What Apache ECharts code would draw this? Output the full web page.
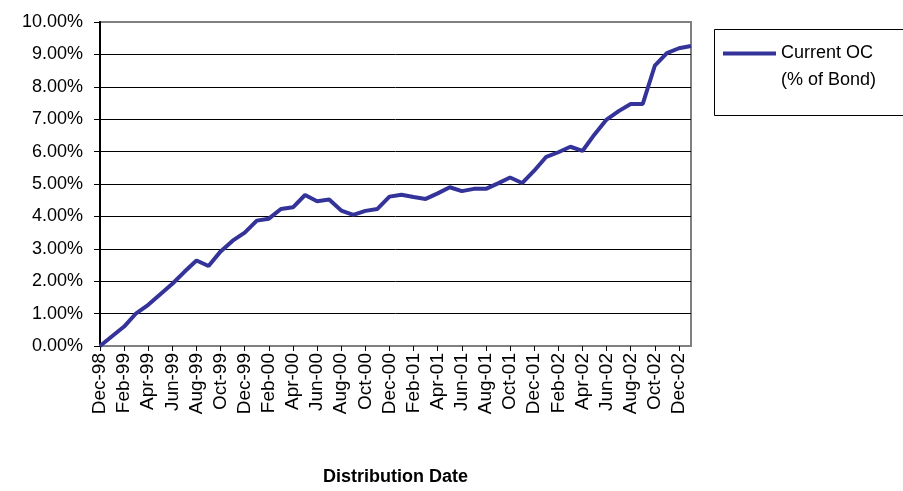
<!DOCTYPE html>
<html>
<head>
<meta charset="utf-8">
<script src="https://cdn.jsdelivr.net/npm/echarts@6/dist/echarts.min.js"></script>
<style>
html,body{margin:0;padding:0;background:#fff;}
#chart{width:903px;height:491px;}
</style>
</head>
<body>
<div id="chart"></div>
<script>
var months = ["Dec-98","Jan-99","Feb-99","Mar-99","Apr-99","May-99","Jun-99","Jul-99","Aug-99","Sep-99","Oct-99","Nov-99","Dec-99",
"Jan-00","Feb-00","Mar-00","Apr-00","May-00","Jun-00","Jul-00","Aug-00","Sep-00","Oct-00","Nov-00","Dec-00",
"Jan-01","Feb-01","Mar-01","Apr-01","May-01","Jun-01","Jul-01","Aug-01","Sep-01","Oct-01","Nov-01","Dec-01",
"Jan-02","Feb-02","Mar-02","Apr-02","May-02","Jun-02","Jul-02","Aug-02","Sep-02","Oct-02","Nov-02","Dec-02",
"Jan-03"];
var currentOC = [0.00,0.30,0.60,1.01,1.27,1.60,1.92,2.29,2.64,2.47,2.92,3.25,3.50,
3.87,3.93,4.23,4.28,4.66,4.47,4.52,4.18,4.05,4.17,4.23,4.61,
4.67,4.60,4.54,4.71,4.90,4.78,4.85,4.85,5.02,5.20,5.03,5.41,
5.84,5.98,6.15,6.02,6.53,6.99,7.25,7.47,7.47,8.65,9.04,9.19,
9.26];
var seriesName = "Current OC\n(% of Bond)";
var xTitle = "Distribution Date";
var yMin = 0, yMax = 10, yStep = 1;

var FONT = "'Liberation Sans', Arial, sans-serif";
var gridLineColors = ['#808080','#000','#000','#000','#000','#000','#000','#000','#000','#000','#808080'];
var chart = echarts.init(document.getElementById('chart'), null, {renderer:'canvas'});
chart.setOption({
  animation: false,
  backgroundColor: '#ffffff',
  textStyle: {fontFamily: FONT},
  grid: {left: 100, right: 212, top: 22, bottom: 143, show: true, borderColor: '#808080', borderWidth: 2, backgroundColor: 'transparent'},
  legend: {
    left: 723, top: 13, orient: 'vertical', padding: 0,
    icon: 'rect', itemWidth: 53, itemHeight: 4,
    formatter: function(name){ return '\n' + name; },
    textStyle: {fontFamily: FONT, fontSize: 18, color: '#000', lineHeight: 27},
    data: [{name: seriesName, itemStyle: {color: '#333399'}}]
  },
  graphic: [{type: 'rect', left: 712, top: 27, shape: {width: 200, height: 86}, style: {fill: 'none', stroke: '#000', lineWidth: 1}, z: 0}],
  xAxis: {
    type: 'category', data: months, boundaryGap: false,
    name: xTitle, nameLocation: 'middle', nameGap: 122,
    nameTextStyle: {fontFamily: FONT, fontSize: 18, fontWeight: 'bold', color: '#000'},
    axisLine: {show: true, lineStyle: {color: '#808080', width: 2}},
    axisTick: {show: true, interval: 1, length: 5, lineStyle: {color: '#000', width: 1}},
    axisLabel: {interval: 1, rotate: 90, margin: 7, fontFamily: FONT, fontSize: 19, color: '#000', hideOverlap: false},
    splitLine: {show: false}
  },
  yAxis: {
    type: 'value', min: yMin, max: yMax, interval: yStep,
    axisLine: {show: true, lineStyle: {color: '#000', width: 2}},
    axisTick: {show: true, length: 6, lineStyle: {color: '#000', width: 1}},
    axisLabel: {margin: 17, fontFamily: FONT, fontSize: 18, color: '#000', formatter: function(v){return v.toFixed(2) + '%';}},
    splitLine: {show: true, lineStyle: {color: gridLineColors, width: 1}}
  },
  series: [{
    name: seriesName, type: 'line', data: currentOC,
    symbol: 'none', showSymbol: false,
    lineStyle: {color: '#333399', width: 4},
    itemStyle: {color: '#333399'}, z: 3
  }]
});
</script>
</body>
</html>
